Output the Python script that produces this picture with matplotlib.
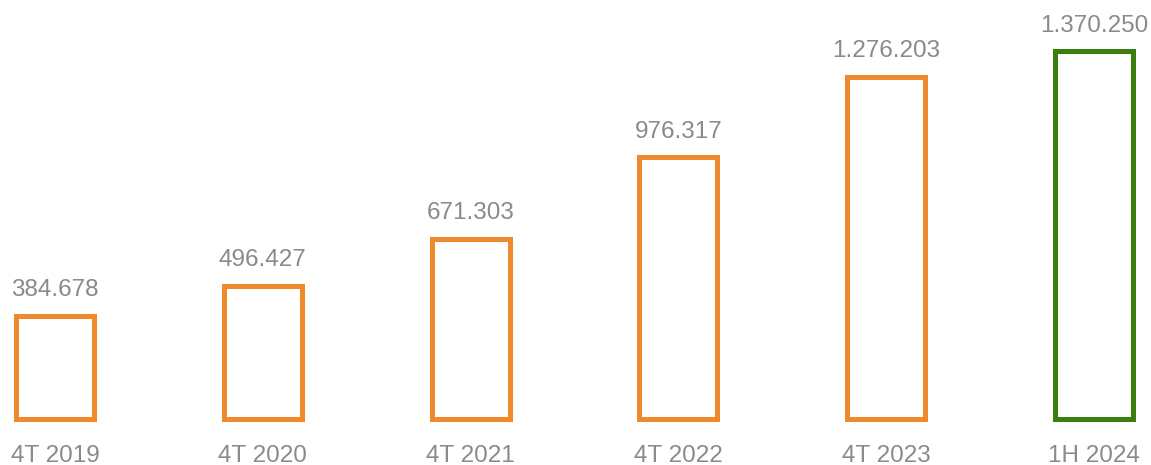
import numpy as np
import matplotlib
matplotlib.use("Agg")
import matplotlib.pyplot as plt

categories = ["4T 2019", "4T 2020", "4T 2021", "4T 2022", "4T 2023", "1H 2024"]
values = [384678, 496427, 671303, 976317, 1276203, 1370250]
value_labels = ["384.678", "496.427", "671.303", "976.317", "1.276.203", "1.370.250"]

orange = "#EE8A2B"
green = "#3B7D0F"
text_gray = "#8A8A8A"
colors = [orange] * 5 + [green]

plt.rcParams["font.family"] = ["Liberation Sans", "DejaVu Sans"]

fig = plt.figure(figsize=(11.51, 4.65), dpi=100)
ax = fig.add_axes([0, 0, 1, 1])

x = np.arange(len(categories))
vals = np.array(values) / 1000.0

ax.bar(x, vals, width=0.375, facecolor="white", edgecolor=colors, linewidth=3.6)

for xi, v, lab in zip(x, vals, value_labels):
  ax.annotate(lab, (xi, v), xytext=(0, 18.5), textcoords="offset points",
              ha="center", va="center", fontsize=17.5, color=text_gray)

# category labels under the bars
for xi, cat in zip(x, categories):
  ax.annotate(cat, (xi, 0), xytext=(0, -26), textcoords="offset points",
              ha="center", va="center", fontsize=17.5, color=text_gray)

ax.set_xlim(-0.2647, 5.274)
ax.set_ylim(-169.4, 1561.8)
ax.axis("off")

fig.savefig("out.png", dpi=100, facecolor="white")
